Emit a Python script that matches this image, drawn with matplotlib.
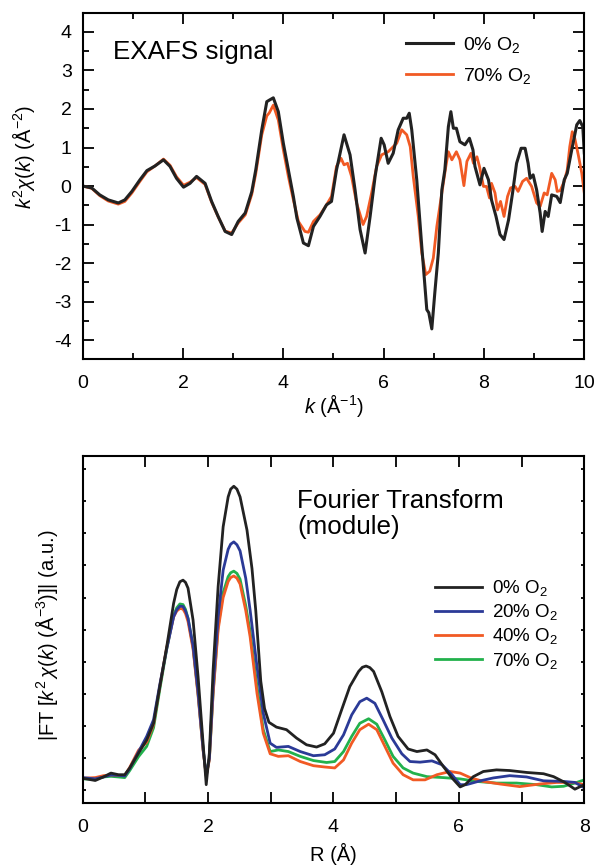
"""EXAFS signal and Fourier transform modulus for Ni films at different O2 partial pressures."""

import matplotlib
matplotlib.use("Agg")
import matplotlib.pyplot as plt
from matplotlib.ticker import MultipleLocator, NullFormatter

plt.rcParams.update(
    {
        "font.family": ["Liberation Sans", "DejaVu Sans"],
        "font.size": 14,
        "mathtext.fontset": "custom",
        "mathtext.rm": "Liberation Sans",
        "mathtext.it": "Liberation Sans:italic",
        "mathtext.bf": "Liberation Sans:bold",
        "axes.unicode_minus": False,
        "axes.linewidth": 1.5,
        "xtick.direction": "in",
        "ytick.direction": "in",
        "xtick.top": True,
        "ytick.right": True,
        "xtick.major.width": 1.3,
        "ytick.major.width": 1.3,
        "xtick.minor.width": 1.3,
        "ytick.minor.width": 1.3,
    }
)

# --- top panel: k^2 chi(k) -------------------------------------------------
k_0 = [
    0.00, 0.18, 0.34, 0.51, 0.71, 0.84, 0.98, 1.14, 1.28, 1.44,
    1.61, 1.74, 1.87, 2.01, 2.14, 2.27, 2.44, 2.57, 2.70, 2.84,
    2.97, 3.10, 3.24, 3.37, 3.45, 3.57, 3.67, 3.72, 3.80, 3.90,
    4.00, 4.10, 4.20, 4.27, 4.40, 4.50, 4.60, 4.73, 4.86, 4.96,
    5.06, 5.21, 5.33, 5.43, 5.53, 5.63, 5.73, 5.83, 5.95, 6.01,
    6.09, 6.19, 6.29, 6.39, 6.46, 6.51, 6.56, 6.66, 6.76, 6.86,
    6.90, 6.96, 7.02, 7.09, 7.16, 7.22, 7.29, 7.34, 7.39, 7.45,
    7.52, 7.62, 7.71, 7.78, 7.82, 7.92, 8.00, 8.09, 8.15, 8.24,
    8.32, 8.40, 8.49, 8.57, 8.65, 8.74, 8.82, 8.88, 8.92, 8.98,
    9.05, 9.12, 9.16, 9.22, 9.28, 9.35, 9.45, 9.52, 9.60, 9.66,
    9.75, 9.85, 9.91, 9.97, 10.00,
]
chi_0 = [
    0.00, -0.05, -0.23, -0.36, -0.44, -0.36, -0.14, 0.16, 0.40, 0.52,
    0.68, 0.51, 0.20, -0.03, 0.07, 0.25, 0.07, -0.40, -0.79, -1.18,
    -1.26, -0.92, -0.70, -0.15, 0.42, 1.46, 2.19, 2.23, 2.29, 1.93,
    1.11, 0.42, -0.27, -0.83, -1.48, -1.55, -1.05, -0.79, -0.49, -0.40,
    0.42, 1.33, 0.81, -0.10, -1.13, -1.74, -0.79, 0.25, 1.24, 1.07,
    0.59, 0.85, 1.46, 1.76, 1.76, 1.89, 1.46, 0.16, -1.57, -3.21,
    -3.29, -3.71, -2.77, -1.74, -0.10, 0.42, 1.54, 1.93, 1.50, 1.50,
    1.15, 1.07, 1.24, 0.94, 0.51, 0.03, 0.46, 0.16, -0.36, -0.79,
    -1.26, -1.39, -0.88, -0.18, 0.59, 0.98, 0.98, 0.59, 0.20, 0.29,
    -0.10, -0.70, -1.18, -0.66, -0.79, -0.23, -0.27, -0.43, 0.16, 0.33,
    0.94, 1.59, 1.70, 1.54, 0.86,
]
k_70 = [
    0.00, 0.18, 0.34, 0.51, 0.71, 0.84, 0.98, 1.14, 1.28, 1.44,
    1.61, 1.74, 1.87, 2.01, 2.14, 2.27, 2.44, 2.57, 2.70, 2.84,
    2.97, 3.10, 3.24, 3.37, 3.45, 3.57, 3.67, 3.72, 3.80, 3.90,
    4.00, 4.10, 4.20, 4.30, 4.43, 4.50, 4.60, 4.73, 4.86, 4.96,
    5.06, 5.15, 5.21, 5.28, 5.36, 5.46, 5.59, 5.66, 5.76, 5.86,
    5.96, 6.09, 6.26, 6.36, 6.46, 6.53, 6.59, 6.69, 6.76, 6.84,
    6.92, 6.99, 7.06, 7.16, 7.24, 7.29, 7.36, 7.45, 7.52, 7.60,
    7.66, 7.74, 7.79, 7.86, 7.91, 7.99, 8.05, 8.11, 8.15, 8.22,
    8.27, 8.33, 8.40, 8.47, 8.53, 8.62, 8.68, 8.77, 8.85, 8.95,
    9.05, 9.12, 9.20, 9.26, 9.35, 9.42, 9.46, 9.52, 9.60, 9.66,
    9.71, 9.76, 9.81, 9.88, 9.95, 10.00,
]
chi_70 = [
    0.00, -0.06, -0.25, -0.39, -0.47, -0.40, -0.18, 0.12, 0.37, 0.52,
    0.70, 0.54, 0.24, 0.02, 0.10, 0.22, 0.04, -0.42, -0.80, -1.17,
    -1.22, -0.96, -0.75, -0.22, 0.32, 1.33, 1.82, 1.90, 2.10, 1.71,
    0.94, 0.25, -0.36, -0.92, -1.18, -1.20, -0.92, -0.75, -0.49, -0.27,
    0.51, 0.72, 0.55, 0.59, 0.25, -0.44, -1.00, -0.79, -0.18, 0.51,
    0.81, 0.89, 1.11, 1.46, 1.33, 1.02, 0.25, -0.79, -1.74, -2.30,
    -2.21, -1.87, -1.05, -0.18, 0.51, 0.89, 0.68, 0.89, 0.68, 0.01,
    0.64, 0.85, 0.59, 0.76, 0.51, -0.01, -0.01, -0.31, 0.07, -0.18,
    -0.62, -0.40, -0.79, -0.27, -0.05, -0.01, -0.14, 0.12, 0.20, -0.01,
    -0.44, -0.53, -0.18, -0.23, 0.33, 0.16, -0.14, -0.12, 0.12, 0.42,
    1.02, 1.41, 1.24, 0.81, 0.33, -0.18,
]

# --- bottom panel: |FT| (arbitrary units) -----------------------------------
r_0 = [
    0.00, 0.20, 0.33, 0.45, 0.57, 0.67, 0.75, 0.89, 1.02, 1.13,
    1.23, 1.34, 1.45, 1.50, 1.55, 1.60, 1.64, 1.68, 1.76, 1.84,
    1.92, 1.97, 2.02, 2.08, 2.16, 2.24, 2.32, 2.36, 2.41, 2.46,
    2.51, 2.62, 2.70, 2.76, 2.84, 2.90, 2.97, 3.09, 3.25, 3.41,
    3.57, 3.73, 3.86, 4.00, 4.13, 4.26, 4.40, 4.46, 4.52, 4.58,
    4.64, 4.77, 4.90, 5.03, 5.19, 5.33, 5.49, 5.62, 5.75, 5.89,
    6.02, 6.10, 6.23, 6.39, 6.60, 6.81, 7.08, 7.35, 7.51, 7.69,
    7.85, 8.00,
]
ft_0 = [
    0.38, 0.31, 0.42, 0.54, 0.49, 0.49, 0.70, 1.16, 1.57, 2.09,
    3.23, 4.47, 5.82, 6.25, 6.49, 6.54, 6.47, 6.29, 5.30, 3.54,
    1.47, 0.18, 1.16, 3.75, 6.34, 8.20, 9.13, 9.37, 9.46, 9.37,
    9.13, 8.10, 6.90, 5.60, 3.40, 2.55, 2.12, 1.97, 1.89, 1.63,
    1.42, 1.35, 1.45, 1.78, 2.51, 3.23, 3.70, 3.83, 3.87, 3.82,
    3.70, 3.07, 2.30, 1.68, 1.29, 1.21, 1.26, 1.11, 0.75, 0.39,
    0.11, 0.18, 0.43, 0.59, 0.64, 0.62, 0.56, 0.52, 0.43, 0.25,
    0.04, 0.18,
]
r_20 = [
    0.00, 0.20, 0.33, 0.45, 0.57, 0.67, 0.75, 0.89, 1.02, 1.13,
    1.23, 1.34, 1.45, 1.50, 1.55, 1.60, 1.64, 1.68, 1.76, 1.84,
    1.92, 1.97, 2.02, 2.08, 2.16, 2.24, 2.32, 2.36, 2.41, 2.46,
    2.51, 2.60, 2.67, 2.78, 2.88, 2.99, 3.09, 3.28, 3.47, 3.68,
    3.86, 4.02, 4.16, 4.29, 4.42, 4.53, 4.66, 4.79, 4.93, 5.09,
    5.22, 5.38, 5.57, 5.73, 5.89, 6.02, 6.12, 6.34, 6.55, 6.81,
    7.08, 7.35, 7.67, 7.85, 8.00,
]
ft_20 = [
    0.40, 0.36, 0.42, 0.48, 0.47, 0.45, 0.68, 1.20, 1.68, 2.20,
    3.30, 4.40, 5.40, 5.62, 5.73, 5.72, 5.58, 5.35, 4.50, 3.05,
    1.30, 0.45, 1.00, 3.20, 5.40, 6.85, 7.50, 7.66, 7.73, 7.64,
    7.45, 6.60, 5.61, 3.85, 2.40, 1.47, 1.34, 1.37, 1.21, 1.08,
    1.11, 1.29, 1.73, 2.35, 2.76, 2.87, 2.71, 2.20, 1.63, 1.14,
    0.90, 0.88, 0.92, 0.80, 0.49, 0.18, 0.18, 0.30, 0.39, 0.46,
    0.42, 0.30, 0.28, 0.25, 0.08,
]
r_40 = [
    0.00, 0.20, 0.33, 0.45, 0.57, 0.67, 0.75, 0.89, 1.02, 1.13,
    1.23, 1.34, 1.45, 1.50, 1.55, 1.60, 1.64, 1.68, 1.76, 1.84,
    1.92, 1.97, 2.02, 2.08, 2.16, 2.24, 2.32, 2.36, 2.41, 2.46,
    2.51, 2.60, 2.67, 2.78, 2.88, 2.99, 3.12, 3.28, 3.47, 3.68,
    3.86, 4.02, 4.16, 4.29, 4.42, 4.56, 4.69, 4.82, 4.95, 5.11,
    5.27, 5.46, 5.65, 5.86, 6.02, 6.18, 6.39, 6.66, 6.97, 7.29,
    7.56, 7.82, 8.00,
]
ft_40 = [
    0.38, 0.40, 0.46, 0.48, 0.47, 0.46, 0.72, 1.25, 1.50, 2.05,
    3.25, 4.45, 5.40, 5.58, 5.66, 5.64, 5.50, 5.25, 4.40, 2.95,
    1.25, 0.45, 0.95, 3.00, 5.00, 6.00, 6.50, 6.62, 6.67, 6.60,
    6.42, 5.60, 4.78, 3.02, 1.78, 1.14, 1.06, 1.08, 0.90, 0.77,
    0.73, 0.70, 0.95, 1.47, 1.89, 2.06, 1.89, 1.37, 0.85, 0.49,
    0.33, 0.33, 0.49, 0.59, 0.54, 0.40, 0.28, 0.20, 0.12, 0.20,
    0.25, 0.25, 0.18,
]
r_70 = [
    0.00, 0.20, 0.33, 0.45, 0.57, 0.67, 0.75, 0.89, 1.02, 1.13,
    1.23, 1.34, 1.45, 1.50, 1.55, 1.60, 1.64, 1.68, 1.76, 1.84,
    1.92, 1.97, 2.02, 2.08, 2.16, 2.24, 2.32, 2.36, 2.41, 2.46,
    2.51, 2.60, 2.67, 2.78, 2.88, 2.99, 3.12, 3.28, 3.47, 3.68,
    3.89, 4.02, 4.16, 4.29, 4.42, 4.56, 4.69, 4.82, 4.95, 5.11,
    5.27, 5.49, 5.75, 6.02, 6.29, 6.60, 6.92, 7.24, 7.48, 7.67,
    7.85, 8.00,
]
ft_70 = [
    0.36, 0.35, 0.42, 0.44, 0.42, 0.40, 0.62, 1.05, 1.37, 1.95,
    3.15, 4.40, 5.45, 5.68, 5.80, 5.78, 5.63, 5.35, 4.45, 3.00,
    1.28, 0.48, 0.98, 3.05, 5.10, 6.15, 6.65, 6.77, 6.82, 6.75,
    6.57, 5.75, 4.94, 3.23, 1.89, 1.21, 1.26, 1.21, 1.06, 0.93,
    0.87, 0.90, 1.21, 1.68, 2.09, 2.23, 2.06, 1.57, 1.06, 0.70,
    0.54, 0.43, 0.40, 0.36, 0.28, 0.23, 0.23, 0.18, 0.11, 0.13,
    0.23, 0.33,
]

BLACK = "#222222"
BLUE = "#2b3a97"
ORANGE = "#f15a24"
GREEN = "#22b14c"

fig = plt.figure(figsize=(5.95, 8.65), dpi=100)
ax1 = fig.add_axes([0.139, 0.5846, 0.843, 0.4007])
ax2 = fig.add_axes([0.139, 0.0713, 0.843, 0.4015])

# top panel
ax1.plot(k_70, chi_70, color=ORANGE, lw=2.0, label="70% O$_2$")
ax1.plot(k_0, chi_0, color=BLACK, lw=2.2, label="0% O$_2$")
ax1.set_xlim(0, 10)
ax1.set_ylim(-4.5, 4.5)
ax1.xaxis.set_major_locator(MultipleLocator(2))
ax1.xaxis.set_minor_locator(MultipleLocator(1))
ax1.yaxis.set_major_locator(MultipleLocator(1))
ax1.yaxis.set_minor_locator(MultipleLocator(0.5))
ax1.tick_params(axis="x", which="major", length=8, labelsize=14, pad=11)
ax1.tick_params(axis="y", which="major", length=8, labelsize=14, pad=8)
ax1.tick_params(which="minor", length=4.5)
ax1.set_xlabel(r"$k$ (Å$^{-1}$)", fontsize=14.5, labelpad=0)
ax1.set_ylabel(r"$k^2\chi(k)$ (Å$^{-2}$)", fontsize=14.5)
ax1.yaxis.set_label_coords(-0.091, 0.584)
ax1.text(0.06, 0.887, "EXAFS signal", transform=ax1.transAxes,
         fontsize=18.7, va="center", ha="left")
handles, labels = ax1.get_legend_handles_labels()
ax1.legend(handles[::-1], labels[::-1], loc="upper left",
           bbox_to_anchor=(0.63, 0.958), frameon=False, fontsize=14,
           handlelength=2.4, labelspacing=0.55, handletextpad=0.5,
           borderaxespad=0)

# bottom panel
ax2.plot(r_70, ft_70, color=GREEN, lw=2.0, label="70% O$_2$")
ax2.plot(r_40, ft_40, color=ORANGE, lw=2.0, label="40% O$_2$")
ax2.plot(r_20, ft_20, color=BLUE, lw=2.0, label="20% O$_2$")
ax2.plot(r_0, ft_0, color=BLACK, lw=2.0, label="0% O$_2$")
ax2.set_xlim(0, 8)
ax2.set_ylim(-0.4, 10.4)
ax2.xaxis.set_major_locator(MultipleLocator(2))
ax2.xaxis.set_minor_locator(MultipleLocator(1))
ax2.yaxis.set_major_locator(MultipleLocator(1))
ax2.yaxis.set_major_formatter(NullFormatter())
ax2.tick_params(axis="x", which="both", length=8, labelsize=14, pad=11)
ax2.tick_params(axis="y", which="major", length=2.5)
ax2.set_xlabel("R (Å)", fontsize=14.5, labelpad=5)
ax2.set_ylabel(r"|FT [$k^2\,\chi(k)$ (Å$^{-3}$)]| (a.u.)", fontsize=14.5)
ax2.yaxis.set_label_coords(-0.045, 0.485)
ax2.text(0.427, 0.905, "Fourier Transform\n(module)", transform=ax2.transAxes,
         fontsize=18.7, va="top", ha="left", linespacing=1.1)
handles, labels = ax2.get_legend_handles_labels()
ax2.legend(handles[::-1], labels[::-1], loc="upper left",
           bbox_to_anchor=(0.687, 0.670), frameon=False, fontsize=13.5,
           handlelength=2.5, labelspacing=0.22, handletextpad=0.53,
           borderaxespad=0)

fig.savefig("out.png", dpi=100)
